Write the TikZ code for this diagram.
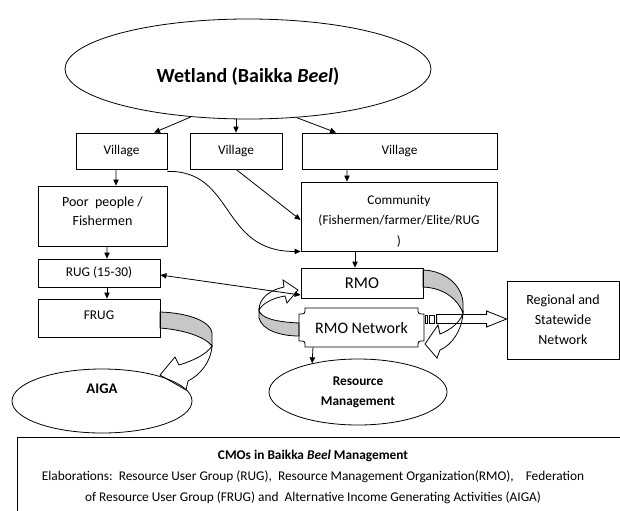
\documentclass[tikz,border=0pt]{standalone}
\usepackage{fontspec}
\setmainfont{Carlito}
\usetikzlibrary{shapes.geometric,arrows.meta,calc}

\begin{document}
\begin{tikzpicture}[x=0.75pt,y=0.75pt,yscale=-1,xscale=1,
  line width=0.6pt,
  box/.style={draw, inner sep=0.75pt, align=center, font=\fontsize{10}{15}\selectfont},
  oval/.style={draw, ellipse, inner sep=0.75pt, align=center},
  arr/.style={-{Triangle[length=4.5pt,width=4pt]}},
  twoarr/.style={{Triangle[length=4.5pt,width=4pt]}-{Triangle[length=4.5pt,width=4pt]}},
  ribbon/.style={fill=black!22},
  ]
\useasboundingbox (0,0) rectangle (620,510);

%Shape: Curved Down Arrow (FRUG to AIGA)
\draw [ribbon] (160,312) .. controls (190,313) and (211,322) .. (212,333) -- (212,346) .. controls (205,337) and (185,330) .. (160,328) -- cycle ;
\draw [fill=white] (212,346) .. controls (211,362) and (200,375) .. (188,381) -- (186,390) -- (160,375) -- (175,357) -- (179,365) .. controls (192,361) and (206,355) .. (212,346) -- cycle ;
%Shape: Curved Down Arrow (RMO to RMO Network)
\draw [ribbon] (423,270) .. controls (448,271) and (463,288) .. (463,304) -- (463,313) .. controls (458,300) and (445,288) .. (423,287) -- cycle ;
\draw [fill=white] (463,313) .. controls (462,330) and (452,345) .. (440,350) -- (437,358) -- (425,344) -- (438,325) -- (440,334) .. controls (450,330) and (460,323) .. (463,313) -- cycle ;
%Shape: Curved Up Arrow (RMO Network to RMO)
\draw [ribbon] (299,323) .. controls (276,322) and (260,318) .. (259,310) -- (259,318) .. controls (262,330) and (280,336) .. (299,336) -- cycle ;
\draw [fill=white] (259,310) .. controls (259,298) and (270,290) .. (284,287) -- (283,280) -- (298,290) -- (287,303) -- (285,296) .. controls (272,298) and (262,304) .. (259,310) -- cycle ;

%Shape: Ellipse
\draw (248,69) node [oval, minimum width=274.5pt, minimum height=75pt, text height=22pt, text depth=2pt, font=\fontsize{15}{18}\selectfont\bfseries] (wet) {Wetland (Baikka \textit{Beel})};

% Text Node
\draw (121.5,151) node [box, minimum width=68.25pt, minimum height=27pt] (vil1) {Village};
% Text Node
\draw (236,151) node [box, minimum width=69pt, minimum height=27pt] (vil2) {Village};
% Text Node
\draw (399.5,151) node [box, minimum width=146.25pt, minimum height=27pt] (vil3) {Village};
% Text Node
\draw (102.5,216) node [box, minimum width=96.75pt, minimum height=45pt, text depth=8pt, font=\fontsize{10.5}{14.25}\selectfont] (poor) {Poor\ \ people /\\Fishermen};
% Text Node
\draw (399,216.5) node [box, minimum width=147pt, minimum height=51.75pt, text height=44.6pt, font=\fontsize{10}{15.4}\selectfont] (comm) {Community\\(Fishermen/farmer/Elite/RUG\\)};
% Text Node
\draw (99,273) node [box, minimum width=91.5pt, minimum height=21pt] (rug) {RUG (15-30)};
% Text Node
\draw (99,318) node [box, minimum width=91.5pt, minimum height=28.5pt, text depth=4pt] (frug) {FRUG};
% Text Node
\draw (362,283) node [box, minimum width=91.5pt, minimum height=22.5pt, font=\fontsize{12.4}{15}\selectfont] (rmo) {RMO};

%Shape: Plaque
\draw (305,308) -- (418,308) .. controls (418,314) .. (424,314) -- (424,341) .. controls (418,341) .. (418,347) -- (305,347) .. controls (305,341) .. (299,341) -- (299,314) .. controls (305,314) .. (305,308) -- cycle ;
% Text Node
\draw (361.5,327.5) node [inner sep=0.75pt, minimum width=93.75pt, minimum height=29.25pt, font=\fontsize{12}{15}\selectfont] (net) {RMO Network};

% Text Node
\draw (563,320) node [box, minimum width=84pt, minimum height=58.5pt, font=\fontsize{10.5}{15}\selectfont] (reg) {Regional and\\Statewide\\Network};

%Shape: Ellipse
\draw (358,392) node [oval, minimum width=133.5pt, minimum height=49.5pt, font=\fontsize{10}{15}\selectfont\bfseries] (rm) {Resource\\Management};
%Shape: Ellipse
\draw (102,401) node [oval, minimum width=135pt, minimum height=48pt, text height=2pt, text depth=13pt, font=\fontsize{11}{13}\selectfont\bfseries] (aiga) {AIGA};

%Shape: Striped Right Arrow
\draw (425,315) rectangle (427,323) ;
\draw (429,315) rectangle (434,323) ;
\draw ($(reg.west)+(0,-1)$) -- ++(-20,-8) -- ++(0,3.5) -- ++(-50,0) -- ++(0,9) -- ++(50,0) -- ++(0,3.5) -- cycle ;

% Connectors
\draw [arr] (wet.220) -- ([xshift=24.4pt]vil1.north);
\draw [arr] (vil2.north |- wet.south) -- (vil2.north);
\draw [arr] (wet.315) -- ([xshift=-47.6pt]vil3.north);
\draw [arr] ([xshift=-4.1pt]vil1.south) -- ([xshift=10.1pt]poor.north);
\draw [arr] ([xshift=-39.4pt]vil3.south) -- ([xshift=-39pt]comm.north);
\draw [arr] (vil2.south) -- ([yshift=2.6pt]comm.west);
\draw [arr] ([yshift=1.5pt]vil1.south east) .. controls (235,170) and (220,252) .. (comm.south west);
\draw [arr] ([xshift=3.4pt]poor.south) -- ([xshift=6pt]rug.north);
\draw [arr] ([xshift=6pt]rug.south) -- ([xshift=6pt]frug.north);
\draw [twoarr] ([yshift=1.5pt]rug.east) -- ([yshift=9pt]rmo.west);
\draw [arr] ([xshift=-33pt]comm.south) -- ([xshift=-5.25pt]rmo.north);
\draw [arr] ([xshift=-36.4pt]net.south) -- (rm.148);

%Shape: Rectangle
\draw (17,437) rectangle (632,522) ;
% Text Node
\draw (313,477) node [inner sep=0.75pt, align=center, font=\fontsize{10}{15.75}\selectfont] (note) {\textbf{CMOs in Baikka \textit{Beel} Management}\\Elaborations:\ \ Resource User Group (RUG),\ \ Resource Management Organization(RMO),\ \ \ \ Federation\\of Resource User Group (FRUG) and\ \ Alternative Income Generating Activities (AIGA)};

\end{tikzpicture}
\end{document}
